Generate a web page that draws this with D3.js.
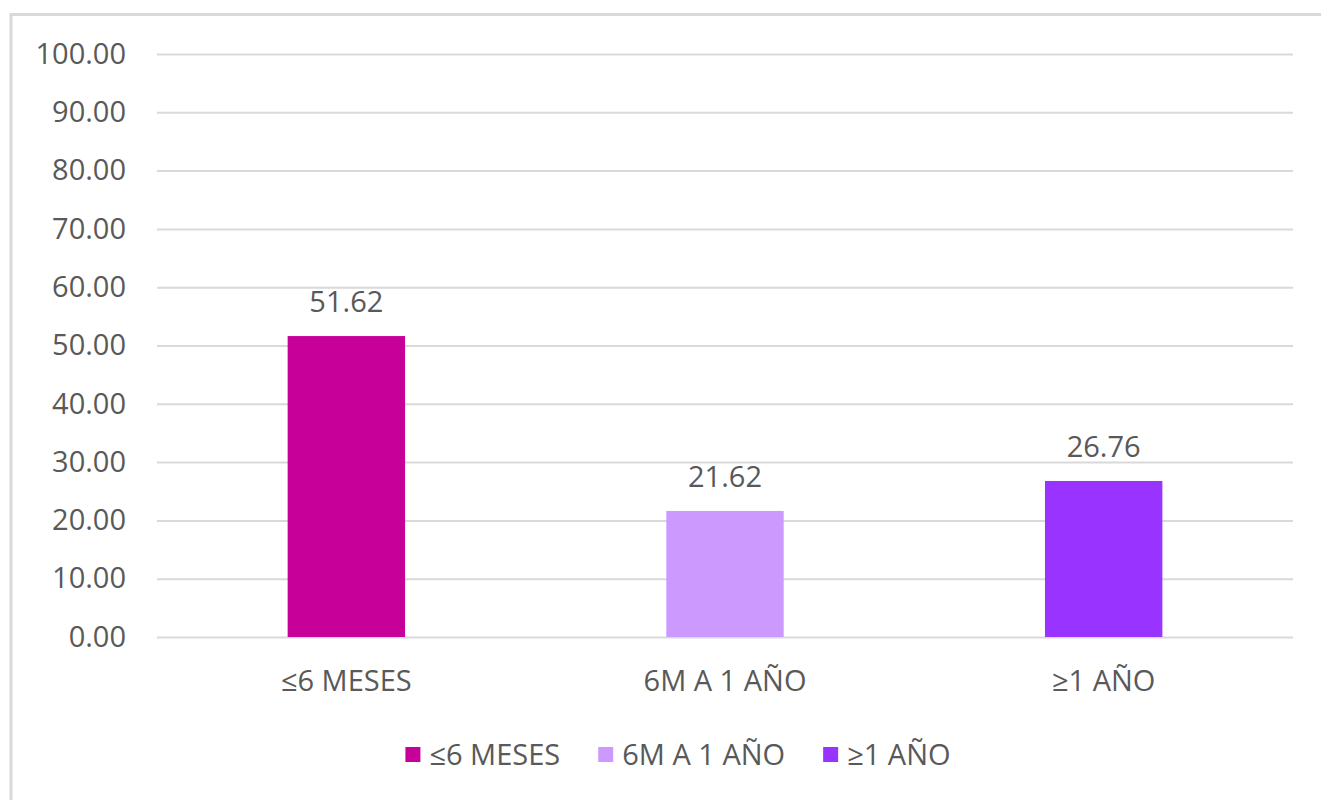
<!DOCTYPE html>
<html><head><meta charset="utf-8">
<script src="https://cdn.jsdelivr.net/npm/d3@7"></script>
<style>body{margin:0;background:#fff}svg{display:block}</style>
</head><body>
<svg id="c" width="1321" height="800"></svg>
<script>
const categories = ["≤6 MESES", "6M A 1 AÑO", "≥1 AÑO"];
const values = [51.62, 21.62, 26.76];
const colors = ["#C8009A", "#CC99FF", "#9933FF"];
const yTicks = [0, 10, 20, 30, 40, 50, 60, 70, 80, 90, 100];

const svg = d3.select("#c");
const font = "'Open Sans', sans-serif";
const fs = "29px";
const txt = "#595959";
const grid = "#D9D9D9";
const m = {left: 157, right: 1293, top: 54, bottom: 637};

svg.append("rect").attr("x", 11).attr("y", 14.5).attr("width", 1320).attr("height", 800)
  .attr("fill", "#fff").attr("stroke", grid).attr("stroke-width", 3);

const x = d3.scaleBand().domain(categories).range([m.left, m.right]).paddingInner(0.69).paddingOuter(0.345);
const y = d3.scaleLinear().domain([0, 100]).range([m.bottom, m.top]);

const yAxis = svg.append("g").attr("transform", `translate(${m.left},0)`)
  .call(d3.axisLeft(y).tickValues(yTicks).tickFormat(d3.format(".2f")).tickSize(-(m.right - m.left)).tickPadding(31));
yAxis.select(".domain").remove();
yAxis.selectAll("line").attr("stroke", grid).attr("stroke-width", 2);
yAxis.selectAll("text").attr("fill", txt).style("font-family", font).style("font-size", fs);

svg.selectAll("rect.bar").data(values).join("rect").attr("class", "bar")
  .attr("x", (d, i) => x(categories[i]))
  .attr("width", x.bandwidth())
  .attr("y", d => y(d))
  .attr("height", d => y(0) - y(d))
  .attr("fill", (d, i) => colors[i]);

svg.selectAll("text.val").data(values).join("text").attr("class", "val")
  .attr("x", (d, i) => x(categories[i]) + x.bandwidth() / 2)
  .attr("y", d => y(d) - 24)
  .attr("text-anchor", "middle").attr("fill", txt)
  .style("font-family", font).style("font-size", fs)
  .text(d => d3.format(".2f")(d));

const xAxis = svg.append("g").attr("transform", `translate(0,${m.bottom})`)
  .call(d3.axisBottom(x).tickSize(0).tickPadding(33));
xAxis.select(".domain").remove();
xAxis.selectAll("text").attr("fill", txt).style("font-family", font).style("font-size", fs);

// legend
const lg = svg.append("g");
const items = lg.selectAll("g").data(categories).join("g");
items.append("rect").attr("width", 15).attr("height", 15).attr("y", -8).attr("fill", (d, i) => colors[i]);
items.append("text").attr("x", 24).attr("dy", "0.35em").attr("fill", txt)
  .style("font-family", font).style("font-size", fs).text(d => d);
let cx = 0;
items.each(function() {
  const w = this.getBBox().width;
  d3.select(this).attr("transform", `translate(${cx},755)`);
  cx += w + 38;
});
const total = cx - 38;
lg.attr("transform", `translate(${678 - total / 2},0)`);
</script>
</body></html>
